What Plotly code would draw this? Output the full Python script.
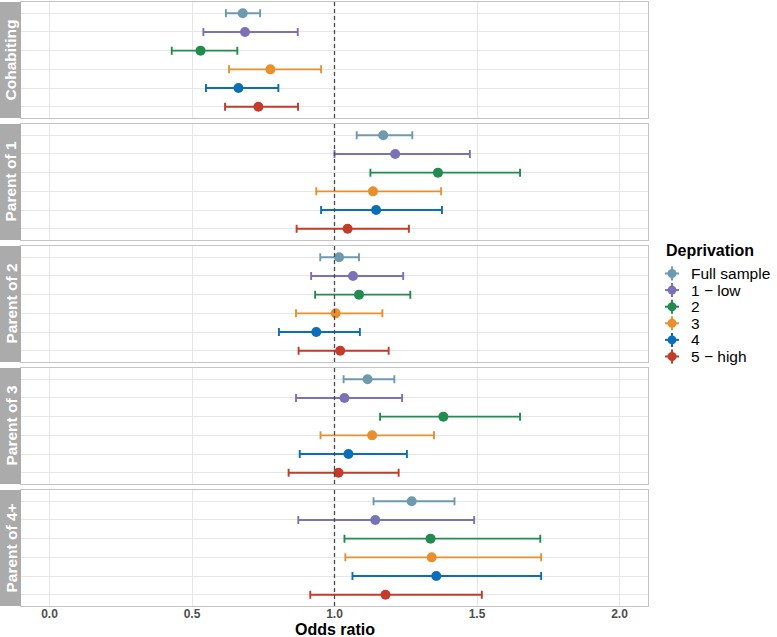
import plotly.graph_objects as go
from plotly.subplots import make_subplots

panels = ["Cohabiting", "Parent of 1", "Parent of 2", "Parent of 3", "Parent of 4+"]
groups = ["Full sample", "1 − low", "2", "3", "4", "5 − high"]
colors = ["#6E9AB0", "#7A72B6", "#238B50", "#E8902E", "#0B6EB8", "#C23B2B"]

or_cohab = [0.678, 0.686, 0.530, 0.775, 0.663, 0.733]
lo_cohab = [0.619, 0.540, 0.429, 0.630, 0.549, 0.616]
hi_cohab = [0.739, 0.871, 0.659, 0.953, 0.803, 0.872]

or_p1 = [1.171, 1.213, 1.363, 1.135, 1.146, 1.046]
lo_p1 = [1.078, 1.000, 1.126, 0.936, 0.953, 0.867]
hi_p1 = [1.273, 1.475, 1.651, 1.374, 1.377, 1.261]

or_p2 = [1.016, 1.065, 1.086, 1.004, 0.936, 1.020]
lo_p2 = [0.950, 0.918, 0.932, 0.865, 0.805, 0.874]
hi_p2 = [1.086, 1.241, 1.266, 1.168, 1.089, 1.190]

or_p3 = [1.116, 1.035, 1.382, 1.132, 1.049, 1.014]
lo_p3 = [1.032, 0.865, 1.160, 0.951, 0.878, 0.839]
hi_p3 = [1.210, 1.237, 1.651, 1.349, 1.254, 1.225]

or_p4 = [1.271, 1.143, 1.337, 1.341, 1.357, 1.179]
lo_p4 = [1.137, 0.873, 1.035, 1.038, 1.063, 0.915]
hi_p4 = [1.421, 1.490, 1.722, 1.725, 1.725, 1.517]

x_ticks = [0.0, 0.5, 1.0, 1.5, 2.0]
x_ticklabels = ["0.0", "0.5", "1.0", "1.5", "2.0"]
x_title = "Odds ratio"
legend_title = "Deprivation"

data = [
    (or_cohab, lo_cohab, hi_cohab),
    (or_p1, lo_p1, hi_p1),
    (or_p2, lo_p2, hi_p2),
    (or_p3, lo_p3, hi_p3),
    (or_p4, lo_p4, hi_p4),
]

W, H = 777, 637
ml, mr, mt, mb = 21, 129, 2, 31
plot_w = W - ml - mr
plot_h = H - mt - mb
gap = 6

def px_x(px):
    return (px - ml) / plot_w

def px_y(py):
    return 1 - (py - mt) / plot_h

fig = make_subplots(rows=5, cols=1, shared_xaxes=True, vertical_spacing=gap / plot_h)

for r, (est, lo, hi) in enumerate(data, start=1):
    for i, g in enumerate(groups):
        fig.add_trace(go.Scatter(
            x=[est[i]], y=[g], mode="markers", name=g,
            marker=dict(color=colors[i], size=10),
            error_x=dict(type="data", symmetric=False,
                         array=[hi[i] - est[i]], arrayminus=[est[i] - lo[i]],
                         color=colors[i], thickness=1.9, width=4),
            showlegend=False, hoverinfo="skip",
        ), row=r, col=1)

grid_col = "#E6E6E6"
border_col = "#C4C4C4"
for r in range(1, 6):
    fig.update_xaxes(row=r, col=1, range=[-0.1, 2.1], tickvals=x_ticks, ticktext=x_ticklabels,
                     showgrid=True, gridcolor=grid_col, gridwidth=1, zeroline=False,
                     showline=True, linecolor=border_col, linewidth=1, mirror=True,
                     ticks="", showticklabels=(r == 5), ticklabelstandoff=-3, automargin=False,
                     tickfont=dict(family="Liberation Sans, Arial", size=12, color="#4D4D4D",
                                   weight="bold"))
    fig.update_yaxes(row=r, col=1, type="category", categoryarray=groups,
                     range=[5.6, -0.6], showgrid=True, gridcolor=grid_col, gridwidth=1,
                     showticklabels=False, ticks="", zeroline=False, automargin=False,
                     showline=True, linecolor=border_col, linewidth=1, mirror=True)
    fig.add_vline(x=1.0, line=dict(color="#4A4A4A", width=1.3, dash="4px,3px"), row=r, col=1)

# x-axis title
fig.add_annotation(xref="paper", yref="paper", x=0.5, y=px_y(629.5), text=x_title,
                   showarrow=False, xanchor="center", yanchor="middle",
                   font=dict(family="Liberation Sans, Arial", size=16, color="black", weight="bold"))

# facet strips on the left
strip_w = ml / plot_w
for r in range(1, 6):
    yax = fig.layout["yaxis" if r == 1 else f"yaxis{r}"]
    y0, y1 = yax.domain
    fig.add_shape(type="rect", xref="paper", yref="paper",
                  x0=-strip_w, x1=0, y0=y0, y1=y1,
                  fillcolor="#ABABAB", line=dict(width=0), layer="above")
    fig.add_annotation(xref="paper", yref="paper", x=-strip_w / 2, y=(y0 + y1) / 2,
                       text=panels[r - 1], textangle=-90, showarrow=False,
                       xanchor="center", yanchor="middle",
                       font=dict(family="Liberation Sans, Arial", size=15.5, color="white", weight="bold"))

# legend (drawn manually, ggplot-style pointrange keys)
fig.add_annotation(xref="paper", yref="paper", x=px_x(664), y=px_y(250),
                   text=legend_title, showarrow=False, xanchor="left", yanchor="middle",
                   font=dict(family="Liberation Sans, Arial", size=16, color="black", weight="bold"))
key_x = px_x(672)
for i, g in enumerate(groups):
    yc = px_y(273.5 + 16.6 * i)
    fig.add_shape(type="line", xref="paper", yref="paper", xsizemode="pixel", ysizemode="pixel",
                  xanchor=key_x, yanchor=yc, x0=-7, x1=7, y0=0, y1=0,
                  line=dict(color=colors[i], width=2))
    fig.add_shape(type="line", xref="paper", yref="paper", xsizemode="pixel", ysizemode="pixel",
                  xanchor=key_x, yanchor=yc, x0=0, x1=0, y0=-7, y1=7,
                  line=dict(color=colors[i], width=2))
    fig.add_shape(type="circle", xref="paper", yref="paper", xsizemode="pixel", ysizemode="pixel",
                  xanchor=key_x, yanchor=yc, x0=-4.5, x1=4.5, y0=-4.5, y1=4.5,
                  fillcolor=colors[i], line=dict(color=colors[i], width=0))
    fig.add_annotation(xref="paper", yref="paper", x=px_x(689), y=yc,
                       text=g, showarrow=False, xanchor="left", yanchor="middle",
                       font=dict(family="Liberation Sans, Arial", size=15.5, color="black"))

fig.update_layout(
    width=W, height=H,
    margin=dict(l=ml, r=mr, t=mt, b=mb, autoexpand=False),
    paper_bgcolor="white", plot_bgcolor="white",
    font=dict(family="Liberation Sans, Arial"),
    showlegend=False,
)

fig.write_html("out.html", config={"displayModeBar": False})

# remove default page margin so the figure sits at the window's top-left corner
with open("out.html", "r", encoding="utf-8") as f:
    html = f.read()
html = html.replace("<body>", '<body style="margin:0;padding:0;">', 1)
html = html.replace("<head>", '<head><style>html,body{margin:0;padding:0;overflow:hidden;}</style>', 1)
with open("out.html", "w", encoding="utf-8") as f:
    f.write(html)
